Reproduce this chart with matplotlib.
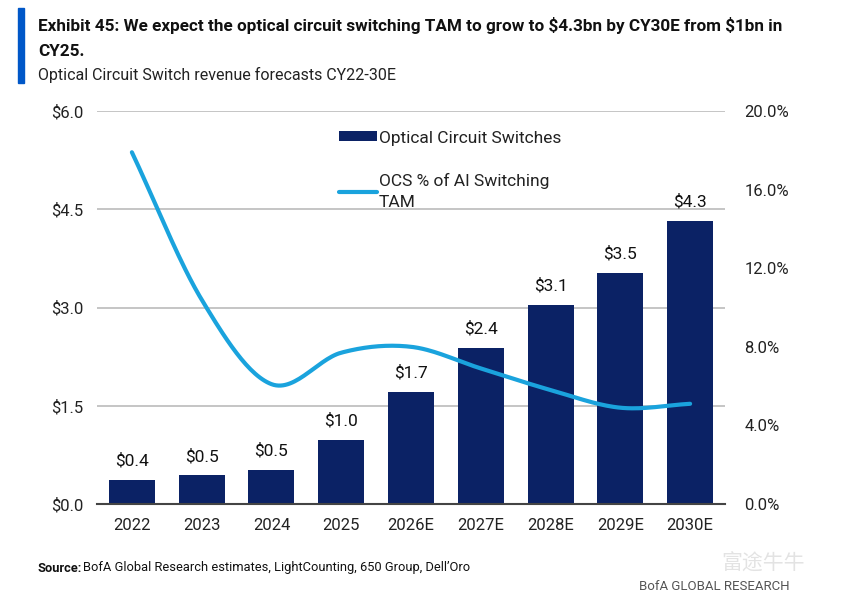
import matplotlib
matplotlib.use("Agg")
import matplotlib.pyplot as plt
import numpy as np
from matplotlib.patches import Rectangle

years = ["2022", "2023", "2024", "2025", "2026E", "2027E", "2028E", "2029E", "2030E"]
revenue = [0.37, 0.44, 0.52, 0.98, 1.71, 2.38, 3.04, 3.53, 4.32]
rev_labels = ["$0.4", "$0.5", "$0.5", "$1.0", "$1.7", "$2.4", "$3.1", "$3.5", "$4.3"]
ocs_share = [17.9, 10.4, 6.1, 7.7, 8.0, 6.9, 5.8, 4.9, 5.1]
left_ticks = [0.0, 1.5, 3.0, 4.5, 6.0]
left_tick_labels = ["$0.0", "$1.5", "$3.0", "$4.5", "$6.0"]
right_ticks = [0, 4, 8, 12, 16, 20]
right_tick_labels = ["0.0%", "4.0%", "8.0%", "12.0%", "16.0%", "20.0%"]

BAR = "#0B2265"
LINE = "#1AA3DD"
NARROW = ["Roboto", "DejaVu Sans"]

plt.rcParams["font.family"] = NARROW
plt.rcParams["text.parse_math"] = False

fig = plt.figure(figsize=(8.48, 6.16), dpi=100)
ax = fig.add_axes([97/848, 1-504/616, (725-97)/848, (504-111)/616])
ax2 = ax.twinx()

x = np.arange(len(years))
ax.bar(x, revenue, width=0.66, color=BAR, zorder=2, label="Optical Circuit Switches")
for xi, v, lab in zip(x, revenue, rev_labels):
    ax.annotate(lab, (xi, v), xytext=(0, 8), textcoords="offset points",
                ha="center", va="bottom", fontsize=12.5, color="#111111")

ax.set_ylim(0, 6.0)
ax.set_xlim(-0.5, len(years)-0.5)
ax.set_yticks(left_ticks)
ax.set_yticklabels(left_tick_labels, fontsize=12)
ax.set_xticks(x)
ax.set_xticklabels(years, fontsize=12)
ax.grid(axis="y", color="#BBBBBB", linewidth=1.2, zorder=0)
ax.set_axisbelow(True)
for s in ["top", "right", "left"]:
    ax.spines[s].set_visible(False)
ax.spines["bottom"].set_color("#444444")
ax.spines["bottom"].set_linewidth(1.5)
ax.tick_params(axis="both", length=0, pad=10, colors="#222222")

# Catmull-Rom smoothing of the line (like spreadsheet smoothed lines)
def smooth(xs, ys, n=30):
    xs = np.asarray(xs, float); ys = np.asarray(ys, float)
    px = np.concatenate([[2*xs[0]-xs[1]], xs, [2*xs[-1]-xs[-2]]])
    py = np.concatenate([[2*ys[0]-ys[1]], ys, [2*ys[-1]-ys[-2]]])
    ox, oy = [], []
    for i in range(1, len(px)-2):
        t = np.linspace(0, 1, n, endpoint=False)
        for arr, out in ((px, ox), (py, oy)):
            p0, p1, p2, p3 = arr[i-1], arr[i], arr[i+1], arr[i+2]
            out.extend(0.5*((2*p1) + (-p0+p2)*t + (2*p0-5*p1+4*p2-p3)*t**2 + (-p0+3*p1-3*p2+p3)*t**3))
    ox.append(xs[-1]); oy.append(ys[-1])
    return np.array(ox), np.array(oy)

sx, sy = smooth(x, ocs_share)
ax2.plot(sx, sy, color=LINE, linewidth=3, solid_capstyle="round", zorder=3,
         label="OCS % of AI Switching\nTAM")
ax2.set_ylim(0, 20)
ax2.set_yticks(right_ticks)
ax2.set_yticklabels(right_tick_labels, fontsize=12)
for s in ["top", "right", "left", "bottom"]:
    ax2.spines[s].set_visible(False)
ax2.tick_params(axis="y", length=0, pad=14, colors="#222222")

h1, l1 = ax.get_legend_handles_labels()
h2, l2 = ax2.get_legend_handles_labels()
leg = ax2.legend(h1 + h2, l1 + l2, loc="upper left", bbox_to_anchor=(0.36, 0.99),
                 frameon=False, handlelength=2.2, handleheight=0.5,
                 handletextpad=0.1, labelspacing=1.6, prop={"size": 12.5})
for t in leg.get_texts():
    t.set_color("#222222")
leg.get_texts()[1].set_linespacing(1.45)

# Title block
fig.patches.append(Rectangle((18/848, 1-83/616), 6/848, 75/616, transform=fig.transFigure,
                             color="#0057C8", zorder=5))
fig.text(38/848, 1-26/616, "Exhibit 45: We expect the optical circuit switching TAM to grow to $4.3bn by CY30E from $1bn in",
         fontsize=12.3, fontweight="bold", va="center", ha="left", color="#111111")
fig.text(38/848, 1-52/616, "CY25.", fontsize=12.3, fontweight="bold", va="center", ha="left",
         color="#111111")
fig.text(38/848, 1-75/616, "Optical Circuit Switch revenue forecasts CY22-30E",
         fontsize=11.5, va="center", ha="left", color="#222222")

fig.text(38/848, 1-568/616, "Source:", fontsize=9.3, fontweight="bold", va="center", ha="left",
         color="#111111")
fig.text(83/848, 1-568/616, "BofA Global Research estimates, LightCounting, 650 Group, Dell\u2019Oro",
         fontsize=9.3, va="center", ha="left", color="#111111")
fig.text(790/848, 1-587/616, "BofA GLOBAL RESEARCH", fontsize=9.5, va="center", ha="right",
         color="#555555")
fig.text(805/848, 1-564/616, "富途牛牛", fontsize=15, va="center", ha="right",
         family=["Noto Sans CJK SC"], color="#E3E3E3")

fig.savefig("out.png", dpi=100)
